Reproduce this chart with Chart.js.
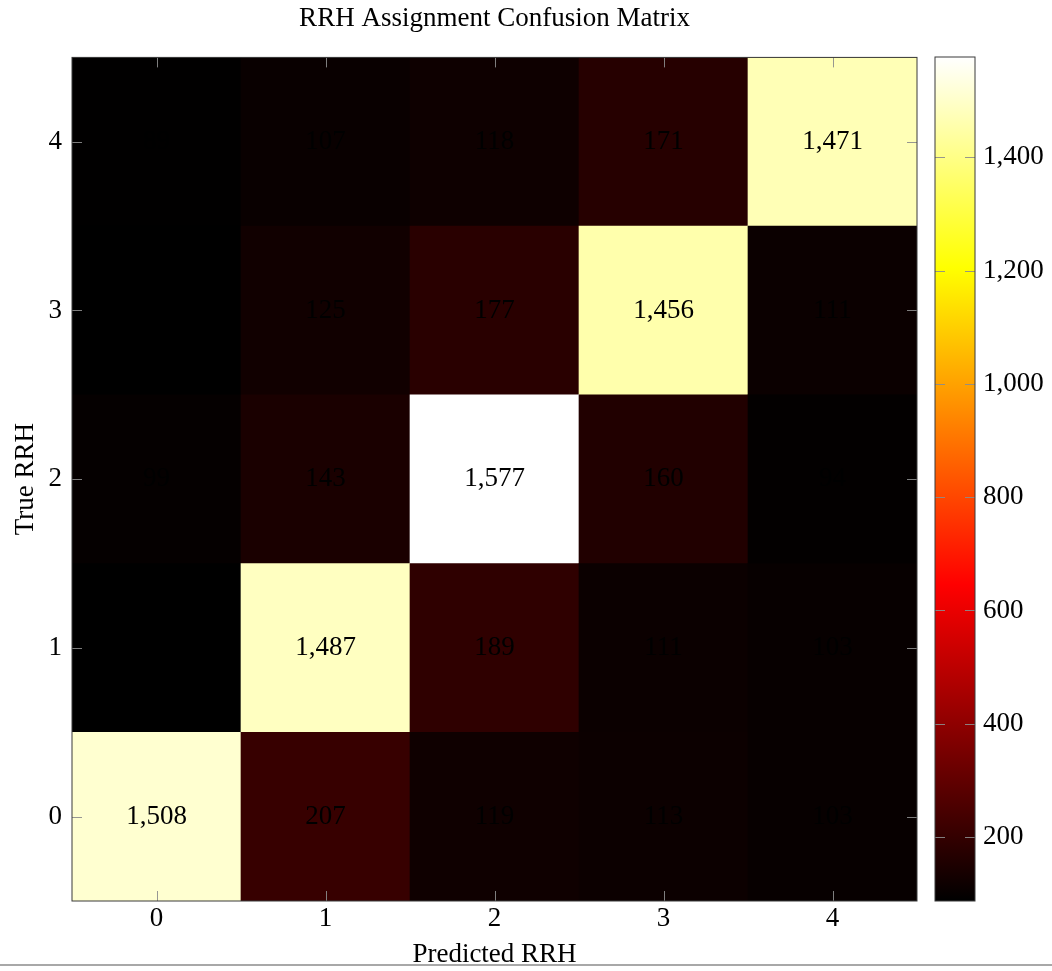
<!DOCTYPE html>
<html>
<head>
<meta charset="utf-8">
<script src="https://cdn.jsdelivr.net/npm/chart.js@4.4.1/dist/chart.umd.min.js"></script>
<style>
  html, body { margin: 0; padding: 0; background: #fff; }
  #wrap { position: relative; width: 1052px; height: 971px; overflow: hidden; }
  #main { position: absolute; left: 0; top: 0; }
  #cbar { position: absolute; left: 900px; top: 0; }
  #rule { position: absolute; left: 0; top: 964px; width: 1052px; height: 2px; background: #a8a8a8; }
</style>
</head>
<body>
<div id="wrap">
  <canvas id="main" width="930" height="971"></canvas>
  <canvas id="cbar" width="152" height="971"></canvas>
  <div id="rule"></div>
</div>
<script>
// Axis categories
const predictedLabels = ['0', '1', '2', '3', '4'];
const trueLabels = [0, 1, 2, 3, 4];

// Counts per true RRH (row), one entry per predicted RRH (column)
const trueRRH0 = [1508, 207, 119, 113, 103];
const trueRRH1 = [87, 1487, 189, 111, 103];
const trueRRH2 = [99, 143, 1577, 160, 94];
const trueRRH3 = [88, 125, 177, 1456, 111];
const trueRRH4 = [89, 107, 118, 171, 1471];
const matrixRows = [trueRRH0, trueRRH1, trueRRH2, trueRRH3, trueRRH4];

// Colour bar tick values
const colorbarTicks = [200, 400, 600, 800, 1000, 1200, 1400];

const allCounts = matrixRows.flat();
const vMin = Math.min(...allCounts);
const vMax = Math.max(...allCounts);

const SERIF = '"Liberation Serif", "Times New Roman", serif';
const FONT_SIZE = 27;
const fmt = v => Number(v).toLocaleString('en-US');

// "hot" colormap: black -> red -> yellow -> white
function hot(v) {
  const t = (v - vMin) / (vMax - vMin);
  const clamp = x => Math.max(0, Math.min(1, x));
  const r = clamp(t / 0.375);
  const g = clamp((t - 0.375) / 0.375);
  const b = clamp((t - 0.75) / 0.25);
  return `rgb(${Math.round(r * 255)},${Math.round(g * 255)},${Math.round(b * 255)})`;
}

const TICK_COLOR = 'rgba(140,140,140,0.9)';
const FRAME_COLOR = '#3a3a3a';

const matrixPlugin = {
  id: 'matrixDecor',
  beforeDatasetsDraw(chart) {
    const { ctx, chartArea: a } = chart;
    ctx.save();
    ctx.fillStyle = hot(vMin);
    ctx.fillRect(a.left, a.top, a.right - a.left, a.bottom - a.top);
    ctx.restore();
  },
  afterDatasetsDraw(chart) {
    const { ctx, chartArea: a, scales: { x, y } } = chart;
    ctx.save();
    // value labels
    ctx.font = `${FONT_SIZE}px ${SERIF}`;
    ctx.fillStyle = '#000';
    ctx.textAlign = 'center';
    ctx.textBaseline = 'middle';
    matrixRows.forEach((row, r) => {
      row.forEach((v, c) => {
        ctx.fillText(fmt(v), x.getPixelForValue(c), y.getPixelForValue(trueLabels[r]));
      });
    });
    // inward tick marks
    ctx.strokeStyle = TICK_COLOR;
    ctx.lineWidth = 1;
    const len = 10;
    ctx.beginPath();
    predictedLabels.forEach((_, c) => {
      const px = Math.round(x.getPixelForValue(c)) + 0.5;
      ctx.moveTo(px, a.bottom); ctx.lineTo(px, a.bottom - len);
      ctx.moveTo(px, a.top); ctx.lineTo(px, a.top + len);
    });
    trueLabels.forEach(v => {
      const py = Math.round(y.getPixelForValue(v)) + 0.5;
      ctx.moveTo(a.left, py); ctx.lineTo(a.left + len, py);
      ctx.moveTo(a.right, py); ctx.lineTo(a.right - len, py);
    });
    ctx.stroke();
    // frame
    ctx.strokeStyle = FRAME_COLOR;
    ctx.strokeRect(a.left, a.top, a.right - a.left, a.bottom - a.top);
    ctx.restore();
  }
};

new Chart(document.getElementById('main'), {
  type: 'bar',
  data: {
    labels: predictedLabels,
    datasets: matrixRows.map((row, r) => ({
      label: 'True RRH ' + trueLabels[r],
      data: row.map(() => [trueLabels[r] - 0.5, trueLabels[r] + 0.5]),
      backgroundColor: row.map(hot),
      borderWidth: 0,
      grouped: false,
      barPercentage: 1,
      categoryPercentage: 1
    }))
  },
  options: {
    responsive: false,
    animation: false,
    layout: { padding: { left: 0, right: 13, top: 0, bottom: 0 } },
    plugins: {
      legend: { display: false },
      tooltip: { enabled: false },
      title: {
        display: true,
        fullSize: false,
        text: 'RRH Assignment Confusion Matrix',
        color: '#000',
        font: { family: SERIF, size: FONT_SIZE, weight: 'normal' },
        padding: { top: 3, bottom: 22 }
      }
    },
    scales: {
      x: {
        type: 'category',
        grid: { display: false },
        border: { display: false },
        ticks: { color: '#000', font: { family: SERIF, size: FONT_SIZE }, padding: -6 },
        title: {
          display: true, text: 'Predicted RRH', color: '#000',
          font: { family: SERIF, size: FONT_SIZE }, padding: { top: -2, bottom: 0 }
        },
        afterFit(s) { s.height = 70; }
      },
      y: {
        type: 'linear',
        min: -0.5,
        max: 4.5,
        afterBuildTicks(s) { s.ticks = trueLabels.map(v => ({ value: v })); },
        grid: { display: false },
        border: { display: false },
        ticks: { color: '#000', font: { family: SERIF, size: FONT_SIZE }, padding: 2 },
        title: {
          display: true, text: 'True RRH', color: '#000',
          font: { family: SERIF, size: FONT_SIZE }, padding: { top: 10, bottom: 0 }
        },
        afterFit(s) { s.width = 72; }
      }
    }
  },
  plugins: [matrixPlugin]
});

const colorbarPlugin = {
  id: 'colorbarDecor',
  afterDatasetsDraw(chart) {
    const { ctx, chartArea: a, scales: { y } } = chart;
    ctx.save();
    ctx.strokeStyle = TICK_COLOR;
    ctx.lineWidth = 1;
    const len = 10;
    ctx.beginPath();
    colorbarTicks.forEach(v => {
      const py = Math.round(y.getPixelForValue(v)) + 0.5;
      ctx.moveTo(a.left, py); ctx.lineTo(a.left + len, py);
      ctx.moveTo(a.right, py); ctx.lineTo(a.right - len, py);
    });
    ctx.stroke();
    ctx.strokeStyle = FRAME_COLOR;
    ctx.strokeRect(a.left, a.top, a.right - a.left, a.bottom - a.top);
    ctx.restore();
  }
};

new Chart(document.getElementById('cbar'), {
  type: 'bar',
  data: {
    labels: [''],
    datasets: [{
      data: [[vMin, vMax]],
      backgroundColor(c) {
        const a = c.chart.chartArea;
        if (!a) return '#000';
        const g = c.chart.ctx.createLinearGradient(0, a.bottom, 0, a.top);
        g.addColorStop(0, hot(vMin));
        g.addColorStop(0.375, 'rgb(255,0,0)');
        g.addColorStop(0.75, 'rgb(255,255,0)');
        g.addColorStop(1, hot(vMax));
        return g;
      },
      borderWidth: 0,
      barPercentage: 1,
      categoryPercentage: 1
    }]
  },
  options: {
    responsive: false,
    animation: false,
    layout: { padding: { left: 35, right: 0, top: 57, bottom: 70 } },
    plugins: { legend: { display: false }, tooltip: { enabled: false } },
    scales: {
      x: { display: false },
      y: {
        type: 'linear',
        position: 'right',
        min: vMin,
        max: vMax,
        afterBuildTicks(s) { s.ticks = colorbarTicks.map(v => ({ value: v })); },
        grid: { display: false },
        border: { display: false },
        ticks: {
          color: '#000', font: { family: SERIF, size: FONT_SIZE }, padding: 0,
          callback: v => fmt(v)
        },
        afterFit(s) { s.width = 77; }
      }
    }
  },
  plugins: [colorbarPlugin]
});
</script>
</body>
</html>
